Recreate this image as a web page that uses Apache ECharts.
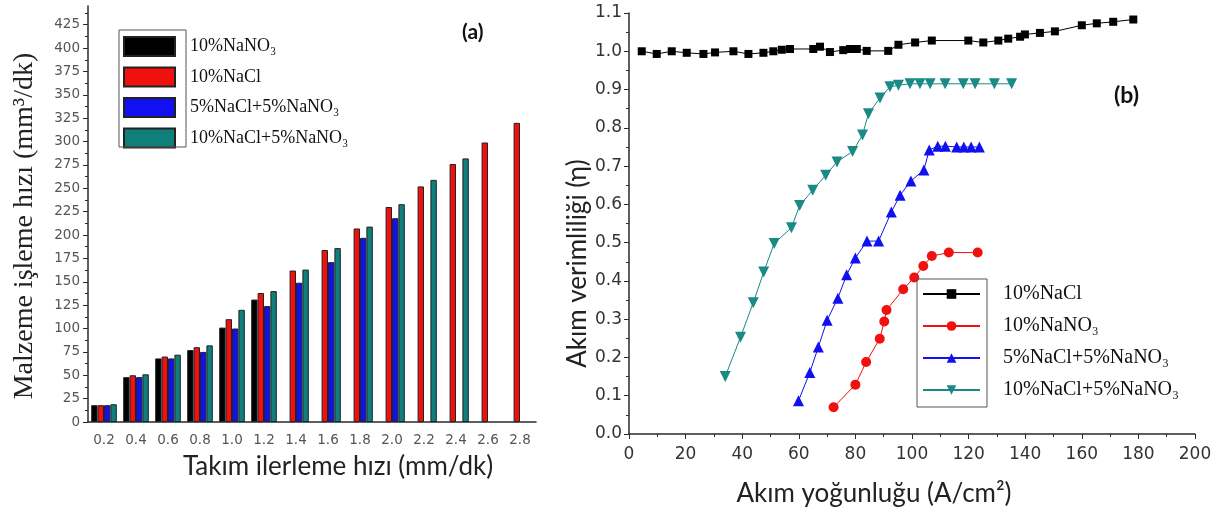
<!DOCTYPE html>
<html><head><meta charset="utf-8">
<script src="https://cdn.jsdelivr.net/npm/echarts@6/dist/echarts.min.js"></script>
<style>html,body{margin:0;padding:0;background:#fff}#c{width:1227px;height:516px}</style>
</head><body><div id="c"></div>
<script>
// ---- (a) bar chart data ----
const feedRates = ['0.2','0.4','0.6','0.8','1.0','1.2','1.4','1.6','1.8','2.0','2.2','2.4','2.6','2.8'];
const mrrNaNO3   = [18, 48, 68, 77, 101, 131, null, null, null, null, null, null, null, null];
const mrrNaCl    = [18, 50, 70, 80, 110, 138, 162, 184, 207, 230, 252, 276, 299, 320];
const mrrMix55   = [18, 48, 68, 75, 100, 124, 149, 171, 197, 218, null, null, null, null];
const mrrMix105  = [19, 51, 72, 82, 120, 140, 163, 186, 209, 233, 259, 282, null, null];
const barLabels  = ['10%NaNO₃', '10%NaCl', '5%NaCl+5%NaNO₃', '10%NaCl+5%NaNO₃'];
const mrrTicks   = [0,25,50,75,100,125,150,175,200,225,250,275,300,325,350,375,400,425];

// ---- (b) current efficiency data ----
const densNaCl = [4.5, 9.8, 15.1, 20.4, 26.3, 30.4, 36.9, 42.2, 47.5, 51.0, 54.0, 56.9, 65.1, 67.5, 71.0, 75.7, 78.1, 80.5, 84.0, 91.6, 95.2, 101.1, 107.0, 119.9, 125.2, 130.5, 134.0, 138.2, 139.9, 145.2, 150.5, 160.0, 165.3, 171.1, 178.2];
const effNaCl  = [1.0, 0.993, 1.0, 0.996, 0.993, 0.997, 1.0, 0.993, 0.996, 1.0, 1.004, 1.006, 1.006, 1.012, 0.998, 1.003, 1.006, 1.006, 1.001, 1.001, 1.017, 1.023, 1.028, 1.028, 1.023, 1.028, 1.033, 1.038, 1.044, 1.048, 1.052, 1.068, 1.073, 1.077, 1.083];
const densNaNO3 = [72.3, 80.0, 83.8, 88.6, 90.2, 91.0, 96.9, 100.8, 104.0, 107.0, 113.0, 123.2];
const effNaNO3  = [0.070, 0.129, 0.188, 0.249, 0.294, 0.324, 0.378, 0.409, 0.439, 0.465, 0.474, 0.474];
const densMix55 = [59.9, 63.9, 66.9, 70.0, 73.8, 76.9, 80.0, 84.1, 88.2, 92.7, 95.8, 99.6, 104.2, 106.1, 109.1, 111.8, 115.8, 118.3, 120.9, 123.8];
const effMix55  = [0.087, 0.161, 0.227, 0.297, 0.355, 0.416, 0.460, 0.504, 0.504, 0.580, 0.624, 0.661, 0.690, 0.742, 0.752, 0.752, 0.750, 0.750, 0.750, 0.750];
const densMix105 = [34.0, 39.4, 43.9, 47.6, 51.3, 57.4, 60.3, 64.9, 69.5, 73.5, 79.0, 82.5, 84.6, 88.7, 92.2, 95.2, 99.3, 102.8, 106.4, 111.7, 118.1, 122.3, 129.1, 135.2];
const effMix105  = [0.150, 0.253, 0.343, 0.423, 0.498, 0.539, 0.597, 0.637, 0.676, 0.711, 0.738, 0.781, 0.837, 0.878, 0.907, 0.911, 0.915, 0.915, 0.915, 0.915, 0.915, 0.915, 0.915, 0.915];
const lineLabels = ['10%NaCl', '10%NaNO₃', '5%NaCl+5%NaNO₃', '10%NaCl+5%NaNO₃'];

const pair = (xs, ys) => xs.map((x, i) => [x, ys[i]]);
const labelMap = {
  L0: barLabels[0], L1: barLabels[1], L2: barLabels[2], L3: barLabels[3],
  R0: lineLabels[0], R1: lineLabels[1], R2: lineLabels[2], R3: lineLabels[3]
};

const barColors = ['#000000', '#f01010', '#1010f0', '#0e7f7b'];
const lineColors = ['#000000', '#f01010', '#1010f0', '#1a8a85'];
const axisCol = '#2a2a2a';
const serif = '"Liberation Serif", "DejaVu Serif", serif';
const sans = 'Lato, "Open Sans", sans-serif';

const bars = [mrrNaNO3, mrrNaCl, mrrMix55, mrrMix105].map((d, i) => ({
  name: 'L' + i, type: 'bar', xAxisIndex: 0, yAxisIndex: 0, data: d,
  barGap: '0%', barCategoryGap: '20%',
  itemStyle: { color: barColors[i], borderColor: '#222', borderWidth: 1 }
}));

const syms = [
  { symbol: 'rect', symbolSize: 8, symbolRotate: 0 },
  { symbol: 'circle', symbolSize: 10, symbolRotate: 0 },
  { symbol: 'triangle', symbolSize: 11, symbolRotate: 0 },
  { symbol: 'triangle', symbolSize: 11, symbolRotate: 180 }
];
const lineData = [pair(densNaCl, effNaCl), pair(densNaNO3, effNaNO3), pair(densMix55, effMix55), pair(densMix105, effMix105)];
const lines = lineData.map((d, i) => Object.assign({
  name: 'R' + i, type: 'line', xAxisIndex: 1, yAxisIndex: 1, data: d,
  lineStyle: { color: lineColors[i], width: 1 },
  itemStyle: { color: lineColors[i] }
}, syms[i]));

const chart = echarts.init(document.getElementById('c'), null, { renderer: 'canvas' });
chart.setOption({
  animation: false,
  backgroundColor: '#fff',
  grid: [
    { left: 88, top: 6, width: 448, height: 416 },
    { left: 629, top: 13, width: 566, height: 421 }
  ],
  xAxis: [
    {
      type: 'category', gridIndex: 0, data: feedRates, boundaryGap: true,
      axisLine: { lineStyle: { color: axisCol, width: 1.5 } },
      axisTick: { alignWithLabel: true, interval: 0, length: 5, lineStyle: { color: axisCol } },
      axisLabel: { interval: 0, color: '#555', fontFamily: 'DejaVu Sans', fontSize: 13.5, margin: 11 },
      name: 'Takım ilerleme hızı (mm/dk)', nameLocation: 'middle', nameGap: 32,
      nameTextStyle: { fontFamily: sans, fontSize: 26, color: '#222', padding: [0, 0, 0, 52] }
    },
    {
      type: 'value', gridIndex: 1, min: 0, max: 200, interval: 20,
      axisLine: { lineStyle: { color: axisCol, width: 1.5 } },
      axisTick: { length: 5, lineStyle: { color: axisCol } },
      minorTick: { show: true, splitNumber: 2, length: 3, lineStyle: { color: axisCol } },
      splitLine: { show: false },
      axisLabel: { color: '#333', fontFamily: 'DejaVu Sans', fontSize: 17, margin: 12 },
      name: 'Akım yoğunluğu (A/cm²)', nameLocation: 'middle', nameGap: 47,
      nameTextStyle: { fontFamily: sans, fontSize: 26, color: '#222', padding: [0, 76, 0, 0] }
    },
    {
      type: 'category', gridIndex: 0, data: feedRates, boundaryGap: true,
      axisLine: { show: false }, axisLabel: { show: false },
      axisTick: { interval: 0, length: 3, lineStyle: { color: axisCol } }
    }
  ],
  yAxis: [
    {
      type: 'value', gridIndex: 0, min: 0, max: 445, interval: 25,
      axisLine: { show: true, lineStyle: { color: axisCol, width: 1.5 } },
      axisTick: { show: true, length: 5, customValues: mrrTicks, lineStyle: { color: axisCol } },
      minorTick: { show: true, splitNumber: 2, length: 3, lineStyle: { color: axisCol } },
      splitLine: { show: false },
      axisLabel: { customValues: mrrTicks, color: '#555', fontFamily: 'DejaVu Sans', fontSize: 13.5, margin: 8 },
      name: 'Malzeme işleme hızı (mm³/dk)', nameLocation: 'middle', nameGap: 49,
      nameTextStyle: { fontFamily: serif, fontSize: 28, color: '#222', padding: [0, 24, 0, 0] }
    },
    {
      type: 'value', gridIndex: 1, min: 0, max: 1.1, interval: 0.1,
      axisLine: { show: true, lineStyle: { color: axisCol, width: 1.5 } },
      axisTick: { show: true, length: 5, lineStyle: { color: axisCol } },
      minorTick: { show: true, splitNumber: 2, length: 3, lineStyle: { color: axisCol } },
      splitLine: { show: false },
      axisLabel: { color: '#333', fontFamily: 'DejaVu Sans', fontSize: 17, margin: 7, formatter: v => v.toFixed(1) },
      name: 'Akım verimliliği (η)', nameLocation: 'middle', nameGap: 37,
      nameTextStyle: { fontFamily: sans, fontSize: 26, color: '#222', padding: [0, 80, 0, 0] }
    }
  ],
  legend: [
    {
      data: ['L0', 'L1', 'L2', 'L3'], orient: 'vertical', left: 123, top: 36, padding: 0,
      itemWidth: 51, itemHeight: 19, itemGap: 9.5, icon: 'rect', selectedMode: false,
      formatter: n => labelMap[n],
      textStyle: { fontFamily: serif, fontSize: 18, color: '#111', lineHeight: 19, padding: [0, 0, 0, 10] }
    },
    {
      data: ['R0', 'R1', 'R2', 'R3'], orient: 'vertical', left: 922, top: 283, padding: 0,
      itemWidth: 57, itemHeight: 12, itemGap: 10, selectedMode: false,
      formatter: n => labelMap[n],
      textStyle: { fontFamily: serif, fontSize: 20, color: '#111', lineHeight: 22, padding: [0, 0, 0, 18] }
    }
  ],
  graphic: [
    { type: 'rect', shape: { x: 119, y: 30, width: 67, height: 117 }, style: { fill: 'none', stroke: '#555', lineWidth: 1 }, z: 100 },
    { type: 'rect', shape: { x: 917, y: 279, width: 70, height: 128 }, style: { fill: 'none', stroke: '#555', lineWidth: 1 }, z: 100 },
    { type: 'text', left: 462, top: 22, style: { text: '(a)', fontFamily: sans, fontWeight: 'bold', fontSize: 21, fill: '#111' } },
    { type: 'text', left: 1114, top: 84, style: { text: '(b)', fontFamily: sans, fontWeight: 'bold', fontSize: 23, fill: '#111' } }
  ],
  series: bars.concat(lines)
});
</script>
</body></html>
